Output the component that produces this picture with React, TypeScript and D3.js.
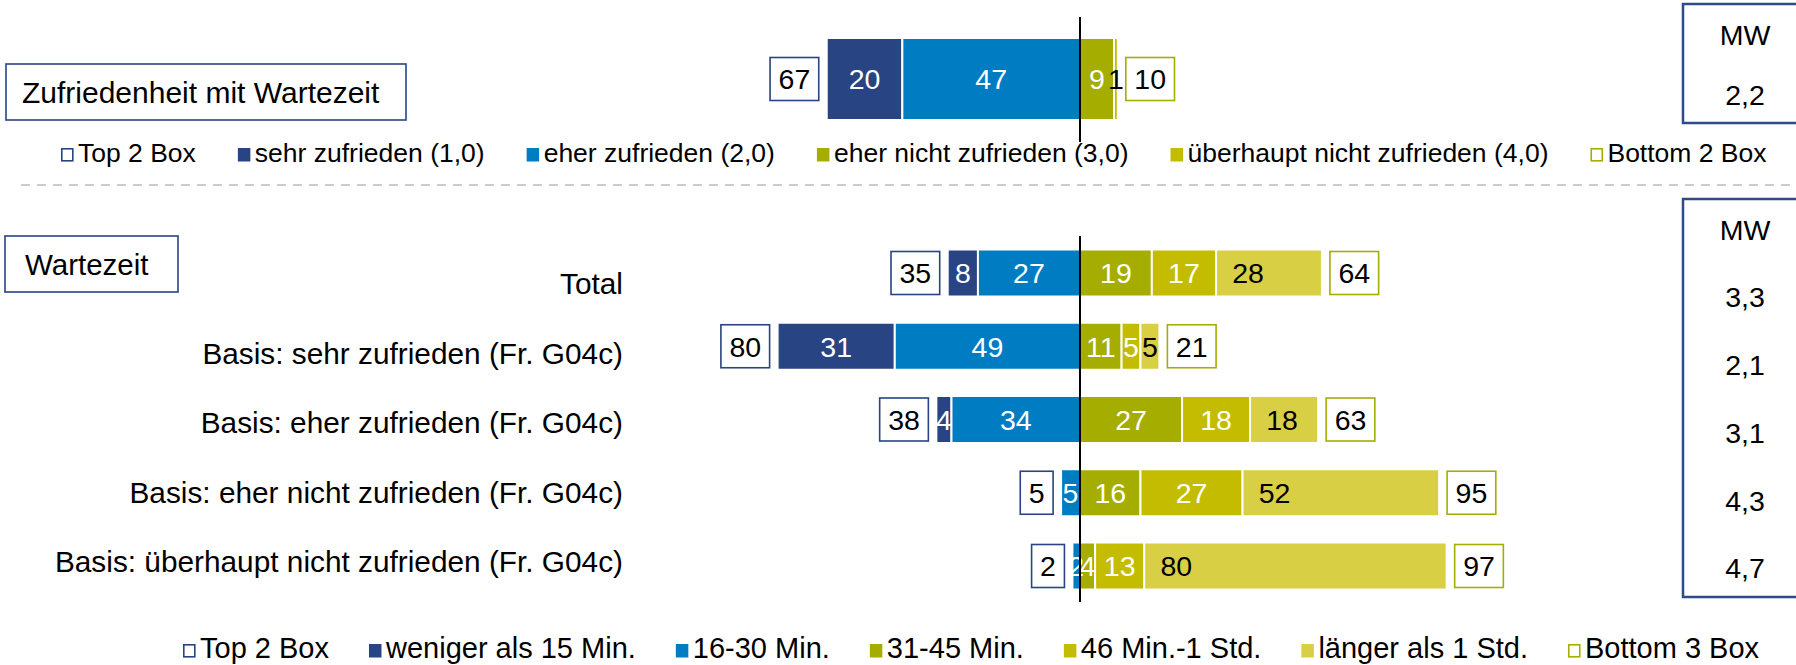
import React, { useEffect, useRef } from "react";
import * as d3 from "d3";

// --- data: top block (Zufriedenheit mit Wartezeit)
const topTitle = "Zufriedenheit mit Wartezeit";
const topSeries = ["sehr zufrieden (1,0)", "eher zufrieden (2,0)", "eher nicht zufrieden (3,0)", "überhaupt nicht zufrieden (4,0)"];
const topValues = [20, 47, 9, 1];
const topTop2 = 67;
const topBottom2 = 10;
const topMW = "2,2";

// --- data: bottom block (Wartezeit)
const waitTitle = "Wartezeit";
const waitCategories = [
  "Total",
  "Basis: sehr zufrieden (Fr. G04c)",
  "Basis: eher zufrieden (Fr. G04c)",
  "Basis: eher nicht zufrieden (Fr. G04c)",
  "Basis: überhaupt nicht zufrieden (Fr. G04c)",
];
const waitSeries = ["weniger als 15 Min.", "16-30 Min.", "31-45 Min.", "46 Min.-1 Std.", "länger als 1 Std."];
const lessThan15 = [8, 31, 4, 0, 0];
const min16to30 = [27, 49, 34, 5, 2];
const min31to45 = [19, 11, 27, 16, 4];
const min46to60 = [17, 5, 18, 27, 13];
const moreThan60 = [28, 5, 18, 52, 80];
const waitTop2 = [35, 80, 38, 5, 2];
const waitBottom3 = [64, 21, 63, 95, 97];
const waitMW = ["3,3", "2,1", "3,1", "4,3", "4,7"];

const NAVY = "#284482";
const BLUE = "#007cc3";
const OLIVE = "#a5ad00";
const YELLOW = "#c4bc00";
const LIGHT = "#d8cf44";
const FONT = "'Liberation Sans', Arial, sans-serif";

function drawStack(g, x, values, nNeg, yc, h, colors, darkLast) {
  let neg = 0;
  for (let i = 0; i < nNeg; i++) neg += values[i];
  const segs = [];
  let cur = -neg;
  values.forEach((v, i) => {
    segs.push({ v, i, x0: cur, x1: cur + v });
    cur += v;
  });
  g.selectAll(null)
    .data(segs.filter(d => d.v > 0))
    .enter().append("rect")
    .attr("x", d => x(d.x0))
    .attr("y", yc - h / 2)
    .attr("width", d => x(d.x1) - x(d.x0))
    .attr("height", h)
    .attr("fill", d => colors[d.i])
    .attr("stroke", "#fff")
    .attr("stroke-width", 2);
  const last = values.length - 1;
  g.selectAll(null)
    .data(segs.filter(d => d.v > 0))
    .enter().append("text")
    .attr("x", d => {
      const l = x(d.x0), w = x(d.x1) - x(d.x0);
      return d.i === last ? l + Math.min(w / 2, 32) : l + w / 2;
    })
    .attr("y", yc)
    .attr("dy", "0.36em")
    .attr("text-anchor", "middle")
    .style("font-size", "28.5px")
    .attr("fill", d => (d.i === last && darkLast ? "#000" : "#fff"))
    .text(d => d.v);
}

function valueBox(g, cx, side, yc, text, stroke) {
  const tw = String(text).length * 0.556 * 28.5;
  const bw = tw + 17;
  const bx = side < 0 ? cx - 8 - bw : cx + 8;
  g.append("rect")
    .attr("x", bx).attr("y", yc - 21.5)
    .attr("width", bw).attr("height", 43)
    .attr("fill", "#fff").attr("stroke", stroke).attr("stroke-width", 1.6);
  g.append("text")
    .attr("x", bx + bw / 2).attr("y", yc).attr("dy", "0.36em")
    .attr("text-anchor", "middle").style("font-size", "28.5px")
    .attr("fill", "#000").text(text);
}

function legend(g, labels, colors, startX, baseline, fontSize, gap, textOff) {
  let cx = startX;
  labels.forEach((lab, i) => {
    const c = colors[i];
    const hollow = c.hollow;
    const mx = cx + textOff - 17;
    g.append("rect")
      .attr("x", mx + (hollow ? 0.8 : 0)).attr("y", baseline - 14 + (hollow ? 0.8 : 0))
      .attr("width", hollow ? 11 : 12.5).attr("height", hollow ? 12 : 13.5)
      .attr("fill", hollow ? "#fff" : c.color)
      .attr("stroke", hollow ? c.color : "none")
      .attr("stroke-width", 1.6);
    const t = g.append("text")
      .attr("x", cx + textOff).attr("y", baseline)
      .style("font-size", fontSize + "px").attr("fill", "#000").text(lab);
    const tw = t.node().getComputedTextLength();
    cx = cx + textOff + tw + gap;
  });
}

function draw(svgEl) {
  const svg = d3.select(svgEl);
  svg.selectAll("*").remove();
  const g = svg.append("g").style("font-family", FONT);

  const x = d3.scaleLinear().domain([-100, 100]).range([1080 - 378, 1080 + 378]);

  // ---------- top block ----------
  g.append("rect").attr("x", 6).attr("y", 64).attr("width", 400).attr("height", 56)
    .attr("fill", "#fff").attr("stroke", NAVY).attr("stroke-width", 1.6);
  g.append("text").attr("x", 22).attr("y", 92).attr("dy", "0.36em")
    .style("font-size", "30px").text(topTitle);

  const topY = 79;
  drawStack(g, x, topValues, 2, topY, 82, [NAVY, BLUE, OLIVE, YELLOW], true);
  valueBox(g, x(-(topValues[0] + topValues[1])), -1, topY, topTop2, NAVY);
  valueBox(g, x(topValues[2] + topValues[3]), 1, topY, topBottom2, OLIVE);
  g.append("line").attr("x1", x(0)).attr("x2", x(0)).attr("y1", 17).attr("y2", 142)
    .attr("stroke", "#000").attr("stroke-width", 2);

  g.append("rect").attr("x", 1683).attr("y", 4).attr("width", 200).attr("height", 119)
    .attr("fill", "none").attr("stroke", "#2e4a87").attr("stroke-width", 2.5);
  g.append("text").attr("x", 1745).attr("y", 35).attr("dy", "0.36em").attr("text-anchor", "middle")
    .style("font-size", "28.5px").text("MW");
  g.append("text").attr("x", 1745).attr("y", 95).attr("dy", "0.36em").attr("text-anchor", "middle")
    .style("font-size", "28.5px").text(topMW);

  legend(g, ["Top 2 Box", ...topSeries, "Bottom 2 Box"],
    [{ color: NAVY, hollow: true }, { color: NAVY }, { color: BLUE }, { color: OLIVE }, { color: YELLOW }, { color: OLIVE, hollow: true }],
    60, 162, 26.5, 41, 18);

  // separator
  g.append("line").attr("x1", 21).attr("x2", 1796).attr("y1", 185).attr("y2", 185)
    .attr("stroke", "#cccccc").attr("stroke-width", 2).attr("stroke-dasharray", "9,7");

  // ---------- bottom block ----------
  g.append("rect").attr("x", 5).attr("y", 236).attr("width", 173).attr("height", 56)
    .attr("fill", "#fff").attr("stroke", NAVY).attr("stroke-width", 1.6);
  g.append("text").attr("x", 25).attr("y", 264).attr("dy", "0.36em")
    .style("font-size", "29.5px").text(waitTitle);

  const yBar = d3.scalePoint().domain(waitCategories).range([273, 566]);
  const yLab = d3.scalePoint().domain(waitCategories).range([294, 572]);
  const yMW = d3.scalePoint().domain(waitCategories).range([297, 568]);

  g.selectAll(null).data(waitCategories).enter().append("text")
    .attr("x", 623).attr("y", d => yLab(d)).attr("text-anchor", "end")
    .style("font-size", "29.8px").text(d => d);

  const colors = [NAVY, BLUE, OLIVE, YELLOW, LIGHT];
  waitCategories.forEach((c, i) => {
    const vals = [lessThan15[i], min16to30[i], min31to45[i], min46to60[i], moreThan60[i]];
    const yc = yBar(c);
    drawStack(g, x, vals, 2, yc, 47, colors, true);
    valueBox(g, x(-(vals[0] + vals[1])), -1, yc, waitTop2[i], NAVY);
    valueBox(g, x(vals[2] + vals[3] + vals[4]), 1, yc, waitBottom3[i], OLIVE);
    g.append("text").attr("x", 1745).attr("y", yMW(c)).attr("dy", "0.36em").attr("text-anchor", "middle")
      .style("font-size", "28.5px").text(waitMW[i]);
  });
  g.append("line").attr("x1", x(0)).attr("x2", x(0)).attr("y1", 236).attr("y2", 602)
    .attr("stroke", "#000").attr("stroke-width", 2);

  g.append("rect").attr("x", 1683).attr("y", 199).attr("width", 200).attr("height", 398)
    .attr("fill", "none").attr("stroke", "#2e4a87").attr("stroke-width", 2.5);
  g.append("text").attr("x", 1745).attr("y", 230).attr("dy", "0.36em").attr("text-anchor", "middle")
    .style("font-size", "28.5px").text("MW");

  legend(g, ["Top 2 Box", ...waitSeries, "Bottom 3 Box"],
    [{ color: NAVY, hollow: true }, { color: NAVY }, { color: BLUE }, { color: OLIVE }, { color: YELLOW }, { color: LIGHT }, { color: OLIVE, hollow: true }],
    181, 658, 29, 38, 19);
}

export default function App() {
  const ref = useRef(null);
  useEffect(() => {
    draw(ref.current);
  }, []);
  return (
    <svg
      ref={ref}
      width={1796}
      height={665}
      style={{ position: "absolute", left: 0, top: 0, display: "block", background: "#fff" }}
    />
  );
}
